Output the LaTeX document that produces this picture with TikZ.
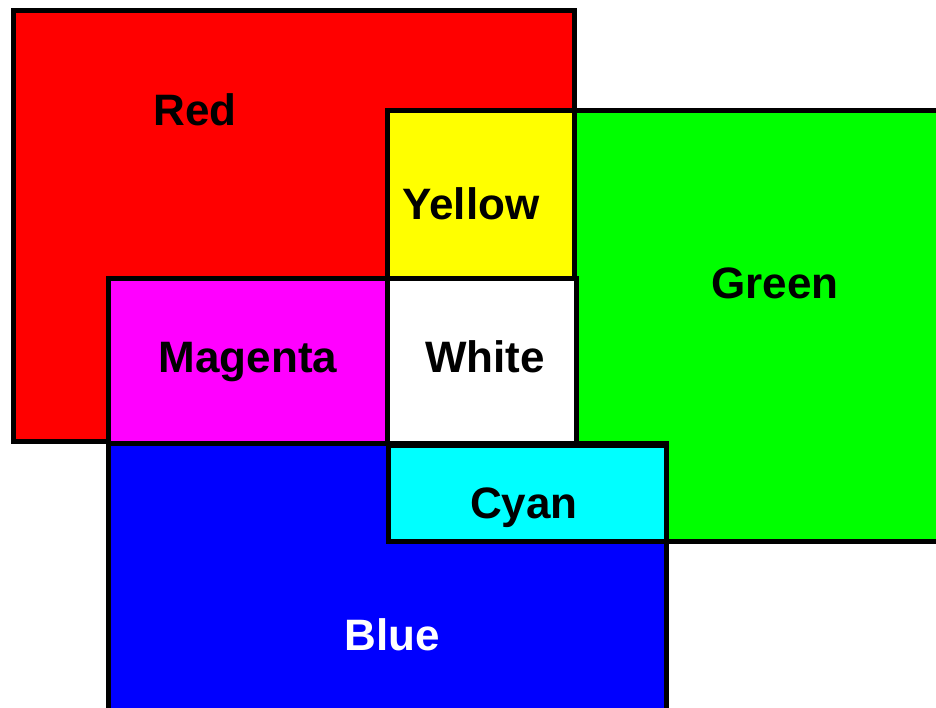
\documentclass[tikz,border=0pt]{standalone}
\usepackage{fontspec}
\setmainfont{Liberation Sans}
\definecolor{cred}{RGB}{255,0,0}
\definecolor{cgreen}{RGB}{0,255,0}
\definecolor{cblue}{RGB}{0,0,255}
\definecolor{cyellow}{RGB}{255,255,0}
\definecolor{cmagenta}{RGB}{255,0,255}
\definecolor{ccyan}{RGB}{0,255,255}
\begin{document}
\begin{tikzpicture}[x=1pt,y=-1pt,
  box/.style={draw=black,line width=5pt,line join=miter},
  lab/.style={font=\fontsize{44}{44}\selectfont\bfseries,inner sep=0pt,anchor=center}]
\useasboundingbox (0,0) rectangle (936,707);
\clip (0,0) rectangle (936,707);
\fill[white] (0,0) rectangle (936,707);
% primaries
\filldraw[box,fill=cred]   (13.5,10) rectangle (574,441);
\filldraw[box,fill=cgreen] (387,110) rectangle (950,541);
\filldraw[box,fill=cblue]  (108.5,443.5) rectangle (666.5,720);
% overlaps
\filldraw[box,fill=cyellow]  (387,110) rectangle (574,278);
\filldraw[box,fill=cmagenta] (108.5,278) rectangle (387,443.5);
\filldraw[box,fill=white]    (387,278) rectangle (576,443.5);
\filldraw[box,fill=ccyan]    (388.5,445) rectangle (666.5,541);
% labels
\node[lab] (tred) at (195,110) {Red};
\node[lab] (tyellow) at (471,204) {Yellow};
\node[lab] (tgreen) at (775,283) {Green};
\node[lab] (tmagenta) at (248,362) {Magenta};
\node[lab] (twhite) at (485,357) {White};
\node[lab] (tcyan) at (524,508) {Cyan};
\node[lab,text=white] (tblue) at (392,635) {Blue};
\end{tikzpicture}
\end{document}
